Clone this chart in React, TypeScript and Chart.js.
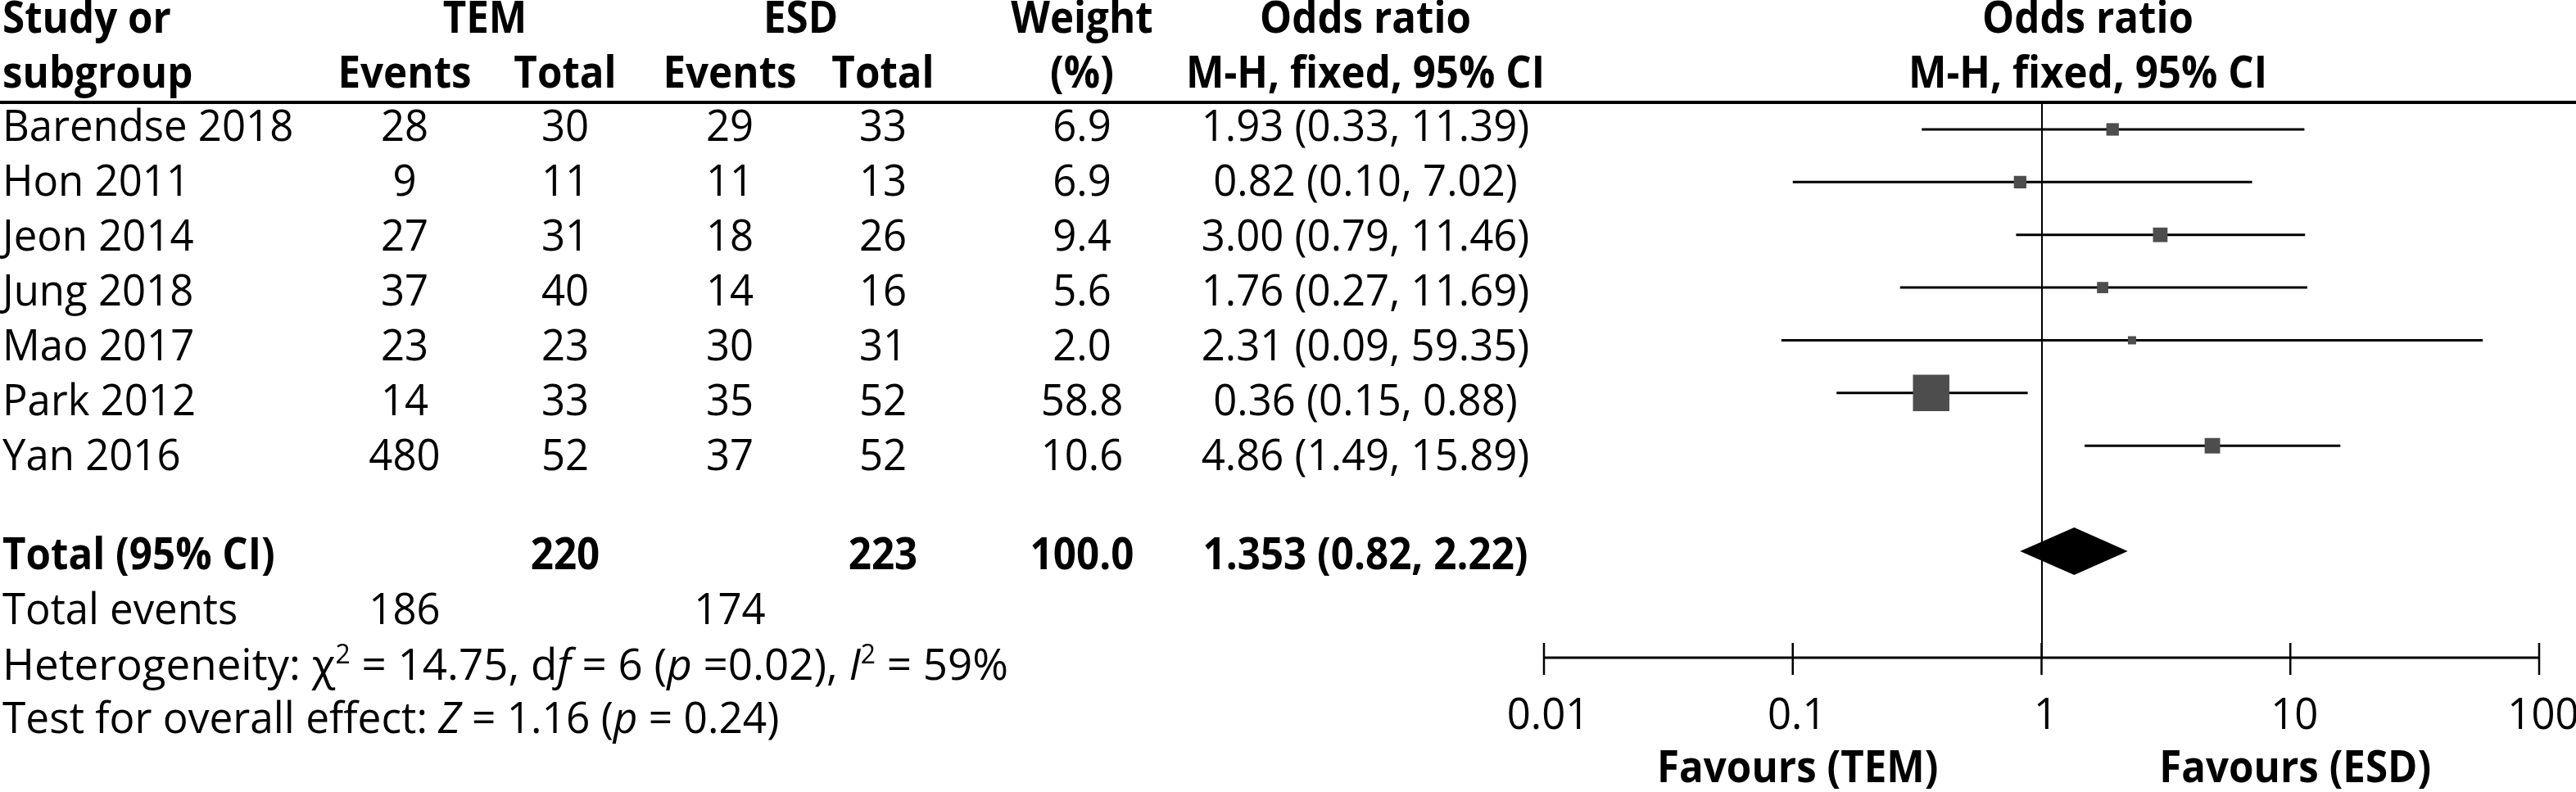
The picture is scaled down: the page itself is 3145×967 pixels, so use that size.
import React, { useEffect, useRef } from 'react';
import { Chart, registerables } from 'chart.js';

Chart.register(...registerables);

// ---------- data ----------
const studies = ['Barendse 2018', 'Hon 2011', 'Jeon 2014', 'Jung 2018', 'Mao 2017', 'Park 2012', 'Yan 2016'];
const temEvents = [28, 9, 27, 37, 23, 14, 480];
const temTotal = [30, 11, 31, 40, 23, 33, 52];
const esdEvents = [29, 11, 18, 14, 30, 35, 37];
const esdTotal = [33, 13, 26, 16, 31, 52, 52];
const weights = [6.9, 6.9, 9.4, 5.6, 2.0, 58.8, 10.6];
const oddsRatios = [1.93, 0.82, 3.0, 1.76, 2.31, 0.36, 4.86];
const ciLower = [0.33, 0.1, 0.79, 0.27, 0.09, 0.15, 1.49];
const ciUpper = [11.39, 7.02, 11.46, 11.69, 59.35, 0.88, 15.89];

const totalLabel = 'Total (95% CI)';
const totalTem = 220;
const totalEsd = 223;
const totalWeight = 100.0;
const pooledOR = 1.353;
const pooledLower = 0.82;
const pooledUpper = 2.22;
const totalEventsTem = 186;
const totalEventsEsd = 174;

const axisTicks = [0.01, 0.1, 1, 10, 100];
const axisTickLabels = ['0.01', '0.1', '1', '10', '100'];
const favoursLeft = 'Favours (TEM)';
const favoursRight = 'Favours (ESD)';

// ---------- layout / style ----------
const W = 3145;
const H = 967;
const FONT = "'Open Sans', 'DejaVu Sans', sans-serif";
const FS = 53;
const SX_REG = 0.96;
const SX_BOLD = 0.93;
const TOTAL_ROW = 8;

type Seg = { t: string; b?: boolean; i?: boolean; sup?: boolean };

function fontFor(s: Seg, size: number) {
  const sz = s.sup ? Math.round(size * 0.6) : size;
  return `${s.i ? 'italic ' : ''}${s.b ? 'bold ' : ''}${sz}px ${FONT}`;
}

function drawRich(
  ctx: CanvasRenderingContext2D,
  segs: Seg[],
  x: number,
  y: number,
  align: 'left' | 'center' | 'right',
  stretch = 1,
  size = FS,
) {
  const sxOf = (s: Seg) => (s.b ? SX_BOLD : SX_REG) * stretch;
  const widths = segs.map((s) => {
    ctx.font = fontFor(s, size);
    return ctx.measureText(s.t).width * sxOf(s);
  });
  const total = widths.reduce((a, b) => a + b, 0);
  let cx = align === 'left' ? x : align === 'center' ? x - total / 2 : x - total;
  segs.forEach((s, k) => {
    ctx.save();
    ctx.font = fontFor(s, size);
    ctx.textAlign = 'left';
    ctx.textBaseline = 'alphabetic';
    ctx.fillStyle = '#000';
    ctx.translate(cx, s.sup ? y - size * 0.38 : y);
    ctx.scale(sxOf(s), 1);
    ctx.fillText(s.t, 0, 0);
    ctx.restore();
    cx += widths[k];
  });
}

function txt(ctx: CanvasRenderingContext2D, t: string, x: number, y: number, align: 'left' | 'center' | 'right', bold = false) {
  drawRich(ctx, [{ t, b: bold }], x, y, align);
}

const col = { study: 3, tEv: 494, tTot: 690, eEv: 891, eTot: 1078, weight: 1321, or: 1667, orPlot: 2549 };

const forestPlugin = {
  id: 'forestPlugin',
  beforeDatasetsDraw(chart: any) {
    const ctx: CanvasRenderingContext2D = chart.ctx;
    const xs = chart.scales.x;
    const area = chart.chartArea;
    ctx.save();
    ctx.strokeStyle = '#000';
    ctx.lineWidth = 2;
    const x1 = Math.round(xs.getPixelForValue(1));
    ctx.beginPath();
    ctx.moveTo(x1, area.top);
    ctx.lineTo(x1, area.bottom);
    ctx.stroke();
    ctx.restore();
  },
  afterDraw(chart: any) {
    const ctx: CanvasRenderingContext2D = chart.ctx;
    const xs = chart.scales.x;
    const ys = chart.scales.y;
    const area = chart.chartArea;

    // header rule
    ctx.save();
    ctx.fillStyle = '#000';
    ctx.fillRect(0, area.top - 3, W, 4);
    ctx.restore();

    // pooled diamond
    const yT = ys.getPixelForValue(TOTAL_ROW);
    const dh = Math.abs(ys.getPixelForValue(TOTAL_ROW + 0.45) - yT);
    ctx.save();
    ctx.fillStyle = '#000';
    ctx.beginPath();
    ctx.moveTo(xs.getPixelForValue(pooledLower), yT);
    ctx.lineTo(xs.getPixelForValue(pooledOR), yT - dh);
    ctx.lineTo(xs.getPixelForValue(pooledUpper), yT);
    ctx.lineTo(xs.getPixelForValue(pooledOR), yT + dh);
    ctx.closePath();
    ctx.fill();
    ctx.restore();

    // axis
    const ay = area.bottom;
    ctx.save();
    ctx.strokeStyle = '#000';
    ctx.lineWidth = 3;
    ctx.beginPath();
    ctx.moveTo(xs.getPixelForValue(axisTicks[0]), ay);
    ctx.lineTo(xs.getPixelForValue(axisTicks[axisTicks.length - 1]), ay);
    ctx.stroke();
    ctx.lineWidth = 2.5;
    axisTicks.forEach((v) => {
      const px = xs.getPixelForValue(v);
      ctx.beginPath();
      ctx.moveTo(px, ay - 18);
      ctx.lineTo(px, ay + 21);
      ctx.stroke();
    });
    ctx.restore();
    axisTicks.forEach((v, k) => {
      txt(ctx, axisTickLabels[k], xs.getPixelForValue(v) + 5, 890, 'center');
    });
    txt(ctx, favoursLeft, xs.getPixelForValue(0.1) + 6, 955, 'center', true);
    txt(ctx, favoursRight, xs.getPixelForValue(10) + 6, 955, 'center', true);

    // headers
    txt(ctx, 'Study or', col.study, 40, 'left', true);
    txt(ctx, 'subgroup', col.study, 107, 'left', true);
    txt(ctx, 'TEM', (col.tEv + col.tTot) / 2, 40, 'center', true);
    txt(ctx, 'ESD', (col.eEv + col.eTot) / 2 - 7, 40, 'center', true);
    txt(ctx, 'Events', col.tEv, 107, 'center', true);
    txt(ctx, 'Total', col.tTot, 107, 'center', true);
    txt(ctx, 'Events', col.eEv, 107, 'center', true);
    txt(ctx, 'Total', col.eTot, 107, 'center', true);
    txt(ctx, 'Weight', col.weight, 40, 'center', true);
    txt(ctx, '(%)', col.weight, 107, 'center', true);
    txt(ctx, 'Odds ratio', col.or, 40, 'center', true);
    txt(ctx, 'M-H, fixed, 95% CI', col.or, 107, 'center', true);
    txt(ctx, 'Odds ratio', col.orPlot, 40, 'center', true);
    txt(ctx, 'M-H, fixed, 95% CI', col.orPlot, 107, 'center', true);

    // study rows
    studies.forEach((s, i) => {
      const by = 172 + 67 * i;
      txt(ctx, s, col.study, by, 'left');
      txt(ctx, String(temEvents[i]), col.tEv, by, 'center');
      txt(ctx, String(temTotal[i]), col.tTot, by, 'center');
      txt(ctx, String(esdEvents[i]), col.eEv, by, 'center');
      txt(ctx, String(esdTotal[i]), col.eTot, by, 'center');
      txt(ctx, weights[i].toFixed(1), col.weight, by, 'center');
      txt(ctx, `${oddsRatios[i].toFixed(2)} (${ciLower[i].toFixed(2)}, ${ciUpper[i].toFixed(2)})`, col.or, by, 'center');
    });

    // totals
    txt(ctx, totalLabel, col.study, 695, 'left', true);
    txt(ctx, String(totalTem), col.tTot, 695, 'center', true);
    txt(ctx, String(totalEsd), col.eTot, 695, 'center', true);
    txt(ctx, totalWeight.toFixed(1), col.weight, 695, 'center', true);
    txt(ctx, `${pooledOR.toFixed(3)} (${pooledLower.toFixed(2)}, ${pooledUpper.toFixed(2)})`, col.or, 695, 'center', true);
    txt(ctx, 'Total events', col.study, 762, 'left');
    txt(ctx, String(totalEventsTem), col.tEv, 762, 'center');
    txt(ctx, String(totalEventsEsd), col.eEv, 762, 'center');

    drawRich(ctx, [
      { t: 'Heterogeneity: \u03C7' },
      { t: '2', sup: true },
      { t: ' = 14.75, d' },
      { t: 'f', i: true },
      { t: ' = 6 (' },
      { t: 'p', i: true },
      { t: ' =0.02), ' },
      { t: 'I', i: true },
      { t: '2', sup: true },
      { t: ' = 59%' },
    ], col.study, 830, 'left', 1.04);
    drawRich(ctx, [
      { t: 'Test for overall effect: ' },
      { t: 'Z', i: true },
      { t: ' = 1.16 (' },
      { t: 'p', i: true },
      { t: ' = 0.24)' },
    ], col.study, 895, 'left', 1.01);
  },
};

export default function App() {
  const ref = useRef<HTMLCanvasElement | null>(null);

  useEffect(() => {
    if (!ref.current) return;
    const ciDatasets = studies.map((s, i) => ({
      label: s,
      type: 'scatter' as const,
      data: [
        { x: ciLower[i], y: i },
        { x: ciUpper[i], y: i },
      ],
      showLine: true,
      borderColor: '#000',
      borderWidth: 3,
      pointRadius: 0,
      order: 2,
    }));
    const squares = {
      label: 'Studies',
      type: 'scatter' as const,
      data: oddsRatios.map((v, i) => ({ x: v, y: i })),
      pointStyle: 'rect',
      pointRadius: weights.map((w) => Math.max(10, 5.8 * Math.sqrt(w)) / Math.SQRT2),
      backgroundColor: '#4d4d4d',
      borderColor: '#4d4d4d',
      borderWidth: 0,
      order: 0,
    };

    const chart = new Chart(ref.current, {
      type: 'scatter',
      data: { datasets: [squares as any, ...ciDatasets] },
      options: {
        responsive: false,
        devicePixelRatio: 1,
        animation: false,
        events: [],
        layout: { padding: { left: 1885, right: W - 3100, top: 126, bottom: H - 803 } },
        plugins: { legend: { display: false }, tooltip: { enabled: false }, title: { display: false } },
        scales: {
          x: { type: 'logarithmic', min: 0.01, max: 100, display: false },
          y: { type: 'linear', min: -0.497, max: 10.02, reverse: true, display: false },
        },
      },
      plugins: [forestPlugin],
    });
    return () => chart.destroy();
  }, []);

  return (
    <div style={{ position: 'fixed', left: 0, top: 0, width: W, height: H, background: '#fff' }}>
      <canvas ref={ref} width={W} height={H} style={{ width: W, height: H, display: 'block' }} />
    </div>
  );
}
